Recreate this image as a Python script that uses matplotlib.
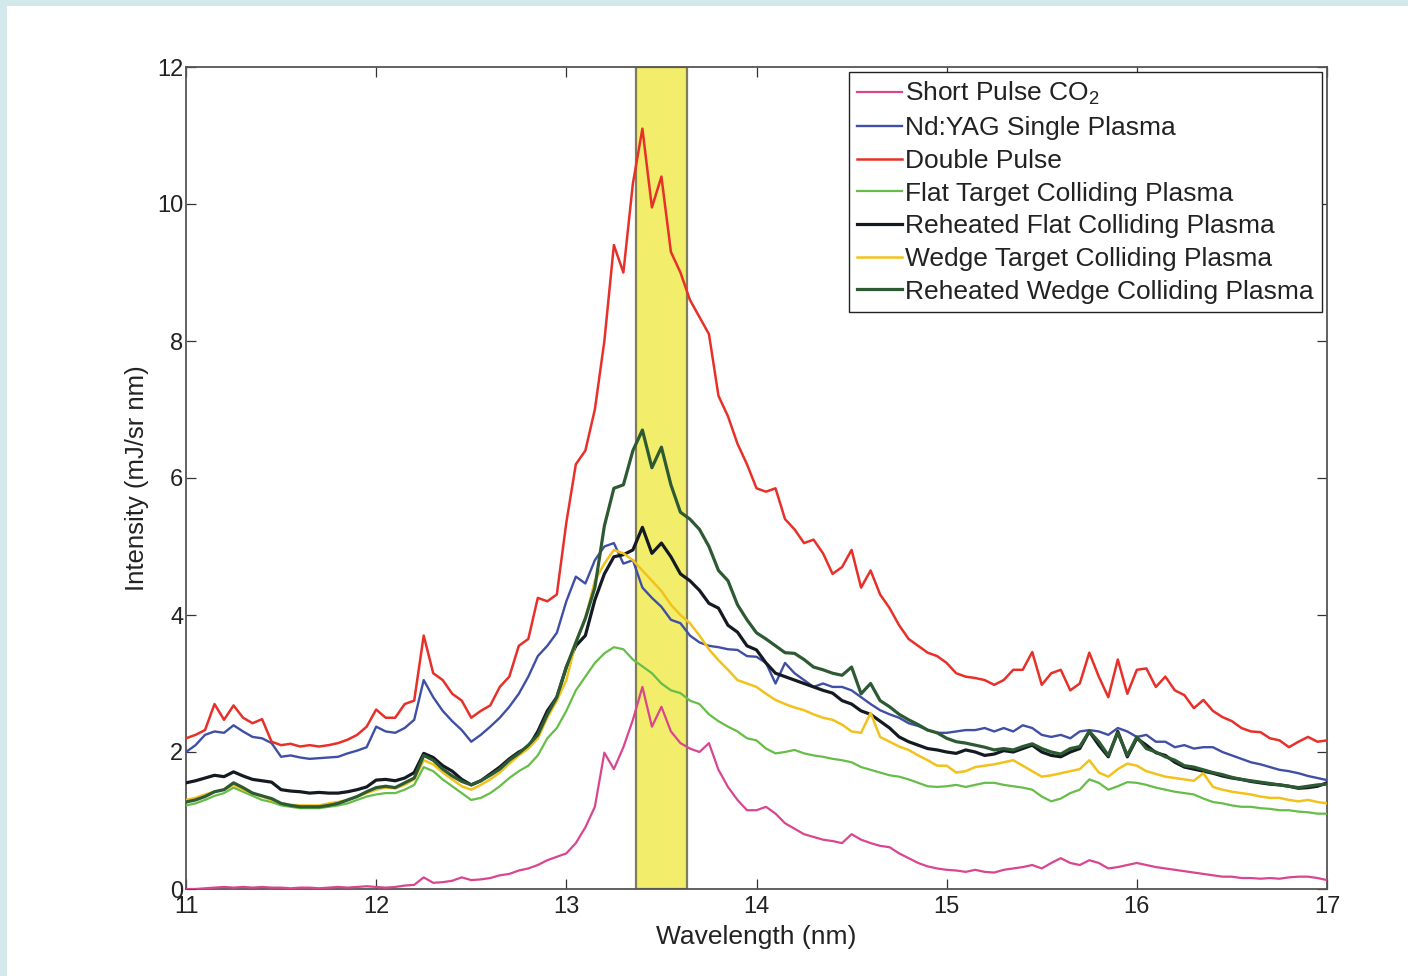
import numpy as np
import matplotlib
matplotlib.use("Agg")
import matplotlib.pyplot as plt
from matplotlib.patches import Rectangle

plt.rcParams['font.family'] = ['Liberation Sans', 'DejaVu Sans']
plt.rcParams['mathtext.fontset'] = 'custom'
plt.rcParams['mathtext.rm'] = 'Liberation Sans'
plt.rcParams['mathtext.it'] = 'Liberation Sans:italic'

# wavelength grid (nm), 0.05 nm step
wavelength = np.linspace(11.0, 17.0, 121)

short_pulse_co2 = [
    0.0, 0.0, 0.01, 0.02, 0.03, 0.02, 0.03, 0.02, 0.03, 0.02, 0.02, 0.01, 0.02, 0.02, 0.01, 0.02, 0.03, 0.02, 0.03, 0.04,
    0.03, 0.02, 0.03, 0.05, 0.06, 0.17, 0.09, 0.1, 0.12, 0.17, 0.13, 0.14, 0.16, 0.2, 0.22, 0.27, 0.3, 0.35, 0.42, 0.47,
    0.52, 0.67, 0.9, 1.2, 1.99, 1.75, 2.07, 2.47, 2.95, 2.37, 2.66, 2.3, 2.13, 2.05, 2.0, 2.13, 1.74, 1.49, 1.3, 1.15,
    1.15, 1.2, 1.1, 0.96, 0.88, 0.8, 0.76, 0.72, 0.7, 0.67, 0.8, 0.72, 0.67, 0.63, 0.61, 0.52, 0.45, 0.38, 0.33, 0.3,
    0.28, 0.27, 0.25, 0.28, 0.25, 0.24, 0.28, 0.3, 0.32, 0.35, 0.3, 0.38, 0.45, 0.38, 0.35, 0.42, 0.38, 0.3, 0.32, 0.35,
    0.38, 0.35, 0.32, 0.3, 0.28, 0.26, 0.24, 0.22, 0.2, 0.18, 0.18, 0.16, 0.16, 0.15, 0.16, 0.15, 0.17, 0.18, 0.18, 0.16,
    0.13]

ndyag_single = [
    2.0, 2.1, 2.25, 2.3, 2.28, 2.39, 2.3, 2.22, 2.2, 2.13, 1.93, 1.95, 1.92, 1.9, 1.91, 1.92, 1.93, 1.98, 2.02, 2.07,
    2.37, 2.3, 2.28, 2.35, 2.47, 3.05, 2.8, 2.6, 2.45, 2.32, 2.15, 2.25, 2.37, 2.5, 2.66, 2.85, 3.1, 3.4, 3.55, 3.74,
    4.2, 4.56, 4.46, 4.8, 5.0, 5.05, 4.75, 4.8, 4.4, 4.25, 4.12, 3.93, 3.88, 3.7, 3.6, 3.55, 3.53, 3.5, 3.49, 3.4,
    3.39, 3.3, 3.0, 3.3, 3.15, 3.05, 2.95, 3.0, 2.95, 2.95, 2.9, 2.8, 2.7, 2.61, 2.55, 2.5, 2.42, 2.38, 2.32, 2.28,
    2.28, 2.3, 2.32, 2.32, 2.35, 2.3, 2.35, 2.3, 2.39, 2.35, 2.25, 2.22, 2.25, 2.2, 2.3, 2.32, 2.3, 2.25, 2.35, 2.3,
    2.22, 2.25, 2.15, 2.15, 2.07, 2.1, 2.05, 2.07, 2.07, 2.0, 1.95, 1.9, 1.85, 1.82, 1.78, 1.74, 1.72, 1.69, 1.65, 1.62,
    1.59]

double_pulse = [
    2.2, 2.25, 2.32, 2.7, 2.47, 2.68, 2.5, 2.42, 2.48, 2.15, 2.1, 2.12, 2.08, 2.1, 2.08, 2.1, 2.13, 2.18, 2.25, 2.37,
    2.62, 2.5, 2.5, 2.7, 2.75, 3.7, 3.15, 3.05, 2.85, 2.75, 2.5, 2.6, 2.68, 2.95, 3.1, 3.55, 3.65, 4.25, 4.2, 4.3,
    5.35, 6.2, 6.4, 7.0, 8.0, 9.4, 9.0, 10.3, 11.1, 9.95, 10.4, 9.3, 9.0, 8.6, 8.35, 8.1, 7.2, 6.9, 6.5, 6.2,
    5.85, 5.8, 5.85, 5.4, 5.25, 5.05, 5.1, 4.9, 4.6, 4.7, 4.95, 4.4, 4.65, 4.3, 4.1, 3.85, 3.65, 3.55, 3.45, 3.4,
    3.3, 3.15, 3.1, 3.08, 3.05, 2.98, 3.05, 3.2, 3.2, 3.46, 2.98, 3.15, 3.2, 2.9, 3.0, 3.45, 3.1, 2.8, 3.35, 2.85,
    3.2, 3.22, 2.95, 3.1, 2.9, 2.83, 2.64, 2.76, 2.6, 2.51, 2.45, 2.35, 2.3, 2.29, 2.2, 2.17, 2.07, 2.15, 2.22, 2.15,
    2.17]

flat_colliding = [
    1.22, 1.25, 1.3, 1.36, 1.4, 1.48, 1.42, 1.36, 1.3, 1.27, 1.22, 1.2, 1.18, 1.18, 1.18, 1.2, 1.22, 1.25, 1.3, 1.35,
    1.38, 1.4, 1.4, 1.45, 1.52, 1.78, 1.72, 1.6, 1.5, 1.4, 1.3, 1.33, 1.4, 1.5, 1.62, 1.72, 1.8, 1.95, 2.2, 2.35,
    2.6, 2.9, 3.1, 3.3, 3.44, 3.53, 3.5, 3.35, 3.25, 3.15, 3.0, 2.9, 2.86, 2.75, 2.7, 2.55, 2.45, 2.37, 2.3, 2.2,
    2.17, 2.05, 1.98, 2.0, 2.03, 1.98, 1.95, 1.93, 1.9, 1.88, 1.85, 1.78, 1.74, 1.7, 1.66, 1.64, 1.6, 1.55, 1.5, 1.49,
    1.5, 1.52, 1.49, 1.52, 1.55, 1.55, 1.52, 1.5, 1.48, 1.45, 1.35, 1.28, 1.32, 1.4, 1.45, 1.6, 1.55, 1.45, 1.5, 1.56,
    1.55, 1.52, 1.48, 1.45, 1.42, 1.4, 1.38, 1.32, 1.27, 1.25, 1.22, 1.2, 1.2, 1.18, 1.17, 1.15, 1.15, 1.13, 1.12, 1.1,
    1.1]

reheated_flat = [
    1.55, 1.58, 1.62, 1.66, 1.64, 1.71, 1.65, 1.6, 1.58, 1.56, 1.45, 1.43, 1.42, 1.4, 1.41, 1.4, 1.4, 1.42, 1.45, 1.49,
    1.59, 1.6, 1.58, 1.62, 1.7, 1.98, 1.92, 1.8, 1.72, 1.6, 1.52, 1.58, 1.68, 1.78, 1.9, 2.0, 2.07, 2.3, 2.6, 2.8,
    3.24, 3.55, 3.7, 4.22, 4.6, 4.85, 4.88, 4.95, 5.28, 4.9, 5.05, 4.85, 4.6, 4.5, 4.36, 4.17, 4.1, 3.85, 3.75, 3.55,
    3.49, 3.3, 3.15, 3.1, 3.05, 3.0, 2.95, 2.9, 2.86, 2.75, 2.7, 2.6, 2.55, 2.45, 2.35, 2.22, 2.15, 2.1, 2.05, 2.03,
    2.0, 1.98, 2.03, 2.0, 1.95, 1.97, 2.02, 2.0, 2.05, 2.1, 2.0, 1.95, 1.93, 2.0, 2.05, 2.3, 2.1, 1.93, 2.3, 1.93,
    2.2, 2.1, 1.99, 1.95, 1.85, 1.78, 1.75, 1.72, 1.69, 1.65, 1.62, 1.6, 1.57, 1.55, 1.53, 1.52, 1.5, 1.47, 1.48, 1.5,
    1.55]

wedge_colliding = [
    1.3, 1.33, 1.38, 1.42, 1.45, 1.52, 1.45, 1.4, 1.35, 1.3, 1.25, 1.23, 1.22, 1.22, 1.22, 1.25, 1.27, 1.3, 1.35, 1.4,
    1.45, 1.48, 1.47, 1.52, 1.6, 1.88, 1.82, 1.7, 1.6, 1.5, 1.45, 1.52, 1.6, 1.7, 1.83, 1.95, 2.05, 2.2, 2.5, 2.75,
    3.05, 3.6, 3.95, 4.5, 4.75, 4.95, 4.9, 4.8, 4.65, 4.5, 4.35, 4.15, 4.0, 3.88, 3.7, 3.5, 3.34, 3.2, 3.05, 3.0,
    2.95, 2.85, 2.76, 2.7, 2.65, 2.61, 2.55, 2.5, 2.47, 2.4, 2.3, 2.28, 2.57, 2.22, 2.15, 2.08, 2.03, 1.95, 1.88, 1.8,
    1.8, 1.7, 1.72, 1.78, 1.8, 1.82, 1.85, 1.88, 1.8, 1.72, 1.64, 1.66, 1.69, 1.72, 1.75, 1.88, 1.7, 1.64, 1.75, 1.83,
    1.8, 1.72, 1.68, 1.64, 1.62, 1.6, 1.58, 1.69, 1.49, 1.45, 1.42, 1.4, 1.38, 1.35, 1.33, 1.33, 1.3, 1.28, 1.3, 1.27,
    1.25]

reheated_wedge = [
    1.27, 1.3, 1.35, 1.42, 1.45, 1.55, 1.48, 1.4, 1.36, 1.32, 1.25, 1.22, 1.2, 1.2, 1.2, 1.22, 1.25, 1.3, 1.35, 1.42,
    1.48, 1.5, 1.48, 1.55, 1.62, 1.95, 1.88, 1.75, 1.65, 1.57, 1.52, 1.58, 1.66, 1.75, 1.88, 1.98, 2.1, 2.25, 2.55, 2.8,
    3.24, 3.6, 3.95, 4.4, 5.3, 5.85, 5.9, 6.4, 6.7, 6.15, 6.45, 5.9, 5.5, 5.4, 5.25, 5.0, 4.65, 4.5, 4.15, 3.93,
    3.74, 3.65, 3.55, 3.45, 3.44, 3.35, 3.24, 3.2, 3.15, 3.12, 3.24, 2.85, 3.0, 2.75, 2.66, 2.55, 2.47, 2.4, 2.32, 2.28,
    2.2, 2.15, 2.13, 2.1, 2.07, 2.03, 2.05, 2.03, 2.08, 2.12, 2.05, 2.0, 1.97, 2.05, 2.08, 2.3, 2.15, 1.95, 2.28, 1.95,
    2.22, 2.05, 2.0, 1.93, 1.88, 1.8, 1.78, 1.74, 1.7, 1.67, 1.63, 1.6, 1.58, 1.56, 1.54, 1.52, 1.5, 1.48, 1.5, 1.52,
    1.53]

labels = ['Short Pulse CO$_2$', 'Nd:YAG Single Plasma', 'Double Pulse',
          'Flat Target Colliding Plasma', 'Reheated Flat Colliding Plasma',
          'Wedge Target Colliding Plasma', 'Reheated Wedge Colliding Plasma']
colors = ['#d9458f', '#3f4fa6', '#e8302a', '#66bd48', '#141a22', '#f2c21c', '#2d5a33']
widths = [1.6, 1.7, 1.8, 1.6, 2.3, 1.8, 2.3]

# 2% in-band window around 13.5 nm
band_lo, band_hi = 13.365, 13.635

fig = plt.figure(figsize=(14.08, 9.76), dpi=100)
fig.patch.set_facecolor('#d3e8eb')
fig.add_artist(Rectangle((7 / 1408, 0), 1, 970 / 976, transform=fig.transFigure,
                         facecolor='white', edgecolor='none', zorder=-10))

ax = fig.add_axes([186 / 1408, 87 / 976, 1141 / 1408, 822 / 976])

ax.axvspan(band_lo, band_hi, facecolor='#f2ee6b', edgecolor='#7e7d55', lw=1.6, zorder=1)

series = [short_pulse_co2, ndyag_single, double_pulse, flat_colliding,
          reheated_flat, wedge_colliding, reheated_wedge]
for y, lab, c, w in zip(series, labels, colors, widths):
    ax.plot(wavelength, y, color=c, lw=w, label=lab, zorder=3)

ax.set_xlim(11, 17)
ax.set_ylim(0, 12)
ax.set_xticks(range(11, 18))
ax.set_yticks(range(0, 13, 2))
ax.tick_params(direction='in', length=7, width=0.9, colors='#333333',
               top=True, right=True, labelsize=17, labelcolor='#222222')
ax.tick_params(axis='y', pad=2)
ax.tick_params(axis='x', pad=5)
for s in ax.spines.values():
    s.set_color('#555555')
    s.set_linewidth(1.3)

ax.set_xlabel('Wavelength (nm)', fontsize=19, color='#222222', labelpad=5)
ax.set_ylabel('Intensity (mJ/sr nm)', fontsize=18.5, color='#222222', labelpad=6)

leg = ax.legend(loc='upper right', fontsize=19, handlelength=1.7, handletextpad=0.12,
                labelspacing=0.33, borderaxespad=0.2, borderpad=0.3,
                fancybox=False, framealpha=1, edgecolor='#222222')
leg.get_frame().set_linewidth(1.0)
for t in leg.get_texts():
    t.set_color('#222222')

fig.savefig('out.png', dpi=100, facecolor=fig.get_facecolor())
